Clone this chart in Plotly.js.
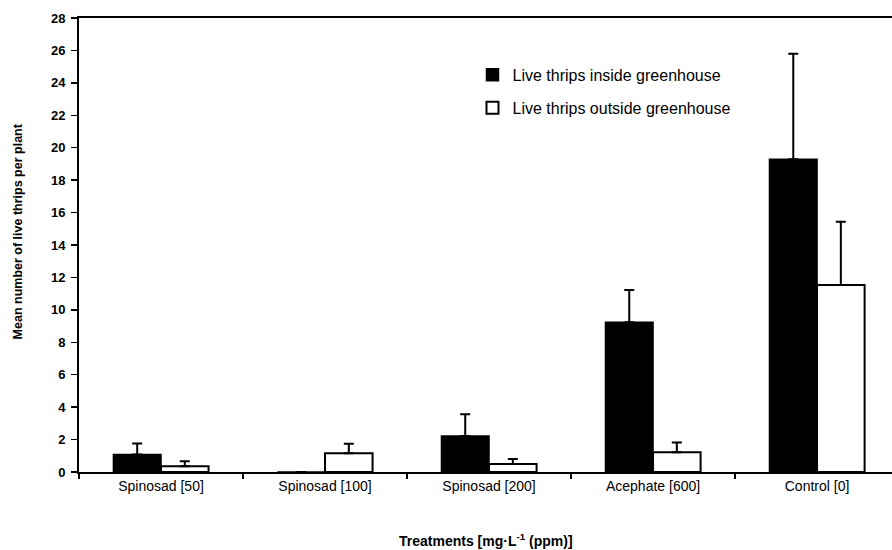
<!DOCTYPE html>
<html>
<head>
<meta charset="utf-8">
<script src="https://cdn.plot.ly/plotly-3.0.1.min.js"></script>
<style>html,body{margin:0;padding:0;background:#fff;overflow:hidden}</style>
</head>
<body>
<div id="chart" style="width:892px;height:550px"></div>
<script>
const categories = ["Spinosad [50]", "Spinosad [100]", "Spinosad [200]", "Acephate [600]", "Control [0]"];
const insideMeans = [1.08, 0, 2.22, 9.23, 19.29];
const insideErr = [0.68, 0, 1.34, 2.0, 6.5];
const outsideMeans = [0.36, 1.15, 0.5, 1.22, 11.54];
const outsideErr = [0.3, 0.6, 0.3, 0.6, 3.9];
const seriesNames = ["Live thrips inside greenhouse", "Live thrips outside greenhouse"];
const yTicks = [0, 2, 4, 6, 8, 10, 12, 14, 16, 18, 20, 22, 24, 26, 28];

const FONT = "Liberation Sans, Arial, Helvetica, sans-serif";

const traces = [
  {
    type: "bar", name: seriesNames[0], x: categories, y: insideMeans,
    legendgroup: "a",
    marker: {color: "#000000", line: {color: "#000000", width: 1.5}},
    error_y: {type: "data", array: insideErr, arrayminus: insideErr.map(() => 0), symmetric: false,
              color: "#000000", thickness: 2, width: 5, visible: true}
  },
  {
    type: "bar", name: seriesNames[1], x: categories, y: outsideMeans,
    legendgroup: "b",
    marker: {color: "#ffffff", line: {color: "#000000", width: 2}},
    error_y: {type: "data", array: outsideErr, arrayminus: outsideErr.map(() => 0), symmetric: false,
              color: "#000000", thickness: 2, width: 5, visible: true}
  }
];

const layout = {
  width: 892, height: 550,
  margin: {l: 79, r: 0, t: 18, b: 78},
  paper_bgcolor: "#ffffff", plot_bgcolor: "#ffffff",
  font: {family: FONT, color: "#000000"},
  barmode: "group", bargap: 0.42, bargroupgap: 0,
  showlegend: true,
  legend: {
    x: 0.484, y: 0.912, xanchor: "left", yanchor: "top",
    font: {family: FONT, size: 16, color: "#000"},
    bgcolor: "rgba(0,0,0,0)", traceorder: "grouped", tracegroupgap: 9,
    itemwidth: 30
  },
  xaxis: {
    type: "category", range: [-0.5, 4.457],
    showline: true, linecolor: "#000", linewidth: 2, mirror: true,
    ticks: "outside", tickson: "boundaries", ticklen: 5, tickcolor: "#000", tickwidth: 1.5,
    tickfont: {family: FONT, size: 14, color: "#000"},
    showgrid: false, zeroline: false, fixedrange: true
  },
  yaxis: {
    range: [0, 28], tickvals: yTicks, ticktext: yTicks.map(String),
    showline: true, linecolor: "#000", linewidth: 2, mirror: false,
    ticks: "outside", ticklen: 6, tickcolor: "#000", tickwidth: 1.5,
    ticklabelstandoff: 3,
    tickfont: {family: FONT, size: 13, color: "#000", weight: "bold"},
    showgrid: false, zeroline: false, fixedrange: true
  },
  annotations: [
    {text: "<b>Mean number of live thrips per plant</b>", xref: "paper", yref: "paper",
     x: -0.075, y: 0.53, xanchor: "center", yanchor: "middle", textangle: -90, showarrow: false,
     font: {family: FONT, size: 12.5, color: "#000"}},
    {text: "<b>Treatments [mg·L<sup>-1</sup> (ppm)]</b>", xref: "paper", yref: "paper",
     x: 0.5, y: -0.15, xanchor: "center", yanchor: "middle", showarrow: false,
     font: {family: FONT, size: 14, color: "#000"}}
  ]
};

Plotly.newPlot("chart", traces, layout, {displayModeBar: false, staticPlot: true});
</script>
</body>
</html>
